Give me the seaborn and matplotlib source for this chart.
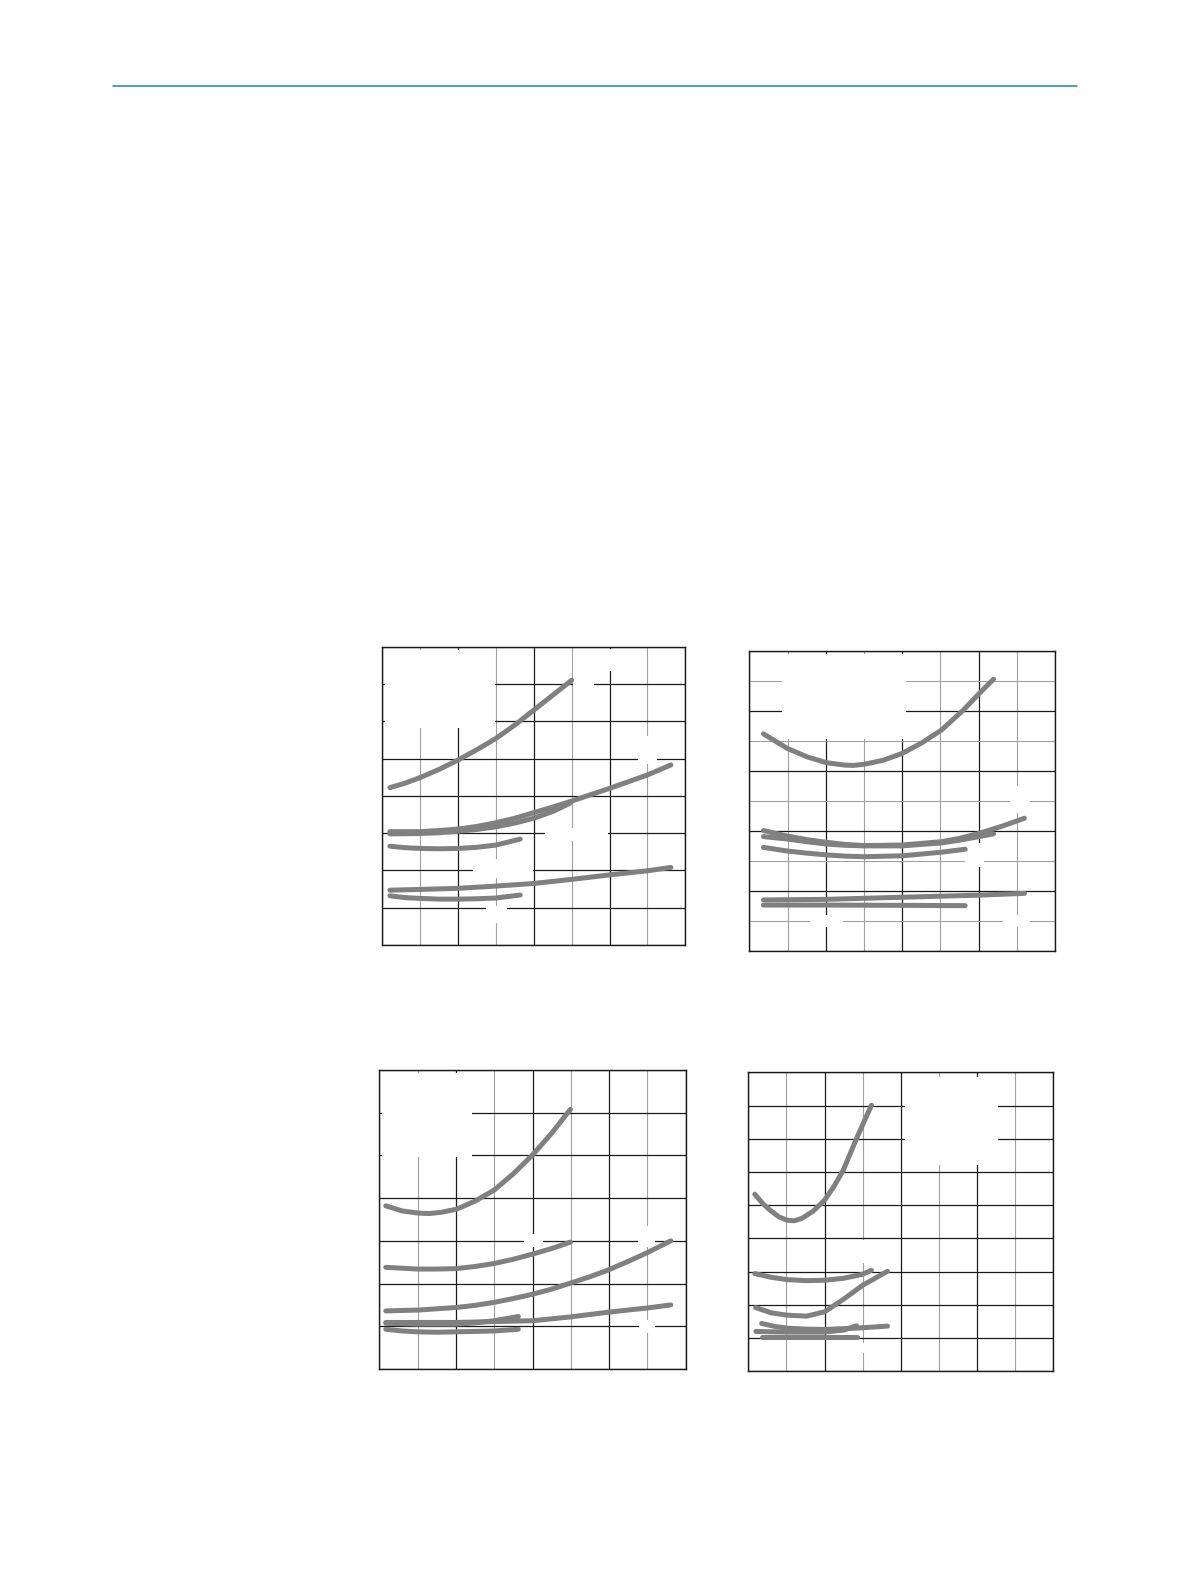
import pandas as pd
import matplotlib
matplotlib.use("Agg")
import matplotlib.pyplot as plt
from matplotlib.lines import Line2D
from matplotlib.patches import Rectangle
import seaborn as sns

# --- values (grid units: columns 0..8, rows from the bottom) ---
top_left_x = [
    [0.2, 0.6, 1.0, 1.5, 2.0, 2.5, 3.0, 3.5, 4.0, 4.5, 5.0],
    [0.2, 1.0, 1.5, 2.0, 2.5, 3.0, 3.5, 4.0, 4.5, 5.0, 5.5, 6.0, 6.5, 7.0, 7.62],
    [0.2, 1.0, 1.5, 2.0, 2.5, 3.0, 3.5, 4.0, 4.5, 4.95],
    [0.2, 0.6, 1.0, 1.5, 2.0, 2.5, 3.0, 3.64],
    [0.2, 1.0, 2.0, 3.0, 4.0, 5.0, 6.0, 7.0, 7.62],
    [0.2, 0.6, 1.0, 1.5, 2.0, 2.5, 3.0, 3.64],
]
top_left_y = [
    [4.22, 4.34, 4.49, 4.71, 4.96, 5.24, 5.54, 5.90, 6.30, 6.70, 7.10],
    [3.04, 3.04, 3.07, 3.11, 3.18, 3.28, 3.40, 3.55, 3.70, 3.86, 4.03, 4.20, 4.38, 4.56, 4.83],
    [2.98, 2.99, 3.01, 3.05, 3.10, 3.17, 3.27, 3.40, 3.58, 3.80],
    [2.65, 2.61, 2.59, 2.58, 2.59, 2.62, 2.68, 2.84],
    [1.47, 1.49, 1.52, 1.58, 1.65, 1.76, 1.88, 1.99, 2.08],
    [1.32, 1.27, 1.25, 1.23, 1.23, 1.24, 1.26, 1.34],
]

top_right_x = [
    [0.37, 0.99, 1.5, 2.02, 2.5, 2.72, 3.01, 3.5, 4.0, 4.5, 5.03, 5.6, 6.02, 6.39],
    [0.37, 0.99, 1.5, 2.02, 2.5, 3.01, 4.0, 5.03, 5.5, 6.02, 6.6, 7.2],
    [0.37, 0.99, 1.5, 2.02, 2.5, 3.01, 4.0, 5.03, 5.5, 6.02, 6.39],
    [0.37, 0.99, 1.5, 2.02, 2.5, 3.01, 4.0, 5.03, 5.65],
    [0.37, 2.02, 4.0, 6.02, 7.2],
    [0.37, 2.02, 4.0, 5.65],
]
top_right_y = [
    [7.23, 6.75, 6.47, 6.27, 6.19, 6.18, 6.22, 6.35, 6.58, 6.92, 7.36, 8.02, 8.58, 9.05],
    [4.01, 3.83, 3.71, 3.62, 3.55, 3.51, 3.53, 3.64, 3.75, 3.92, 4.15, 4.42],
    [3.81, 3.73, 3.64, 3.56, 3.52, 3.50, 3.50, 3.60, 3.69, 3.81, 3.90],
    [3.45, 3.33, 3.26, 3.20, 3.16, 3.14, 3.17, 3.29, 3.39],
    [1.70, 1.72, 1.79, 1.86, 1.92],
    [1.53, 1.53, 1.52, 1.51],
]

bottom_left_x = [
    [0.17, 0.6, 1.02, 1.3, 1.63, 2.01, 2.5, 3.0, 3.5, 4.0, 4.5, 4.99],
    [0.17, 1.02, 1.5, 2.01, 2.5, 3.0, 3.5, 4.0, 4.5, 4.99],
    [0.17, 1.02, 2.01, 2.5, 3.0, 3.5, 4.0, 4.5, 4.99, 5.5, 5.98, 6.5, 7.01, 7.61],
    [0.17, 2.01, 4.0, 5.0, 5.98, 7.01, 7.61],
    [0.17, 1.02, 2.01, 2.5, 3.0, 3.63],
    [0.17, 0.6, 1.02, 1.5, 2.01, 2.5, 3.0, 3.63],
]
bottom_left_y = [
    [3.82, 3.70, 3.65, 3.64, 3.67, 3.74, 3.93, 4.19, 4.57, 5.01, 5.52, 6.08],
    [2.38, 2.34, 2.34, 2.35, 2.40, 2.47, 2.57, 2.69, 2.82, 2.97],
    [1.36, 1.38, 1.44, 1.49, 1.56, 1.65, 1.75, 1.87, 2.01, 2.16, 2.32, 2.52, 2.73, 3.00],
    [1.09, 1.09, 1.13, 1.22, 1.33, 1.43, 1.50],
    [1.07, 1.05, 1.05, 1.08, 1.13, 1.23],
    [0.93, 0.89, 0.87, 0.86, 0.87, 0.88, 0.89, 0.93],
]

bottom_right_x = [
    [0.17, 0.37, 0.57, 0.8, 1.01, 1.2, 1.40, 1.7, 2.0, 2.25, 2.49, 2.84, 3.23],
    [0.17, 0.6, 1.01, 1.5, 2.0, 2.5, 3.0, 3.23],
    [0.19, 0.6, 1.01, 1.53, 2.0, 2.5, 3.0, 3.65],
    [0.35, 0.7, 1.01, 1.5, 2.0, 2.84, 3.65],
    [0.2, 1.01, 2.0, 2.5, 2.84],
    [0.35, 2.0, 2.84],
]
bottom_right_y = [
    [5.33, 5.06, 4.85, 4.65, 4.55, 4.53, 4.60, 4.82, 5.15, 5.57, 6.05, 7.01, 8.01],
    [2.94, 2.83, 2.76, 2.73, 2.74, 2.80, 2.92, 3.04],
    [1.92, 1.76, 1.69, 1.66, 1.79, 2.17, 2.59, 3.01],
    [1.44, 1.35, 1.30, 1.27, 1.26, 1.30, 1.36],
    [1.20, 1.18, 1.18, 1.24, 1.37],
    [1.03, 1.03, 1.03],
]

# --- layout (pixels of the 1191x1584 page) ---
W, H = 1191, 1584
PANELS = [
    # left, top, right, bottom, rows, gray odd rows, xs, ys
    (382.3, 646.7, 685.3, 945.0, 8, False, top_left_x, top_left_y),
    (749.3, 650.7, 1055.0, 951.0, 10, True, top_right_x, top_right_y),
    (379.3, 1070.0, 685.7, 1369.0, 7, False, bottom_left_x, bottom_left_y),
    (748.3, 1072.3, 1053.3, 1371.3, 9, False, bottom_right_x, bottom_right_y),
]
# white label areas where the grid is blanked out (x0, y0, w, h in grid units)
BLANKS = [
    [(0.07, 5.82, 2.91, 2.1), (5.03, 6.85, 0.55, 1.05), (5.9, 7.35, 0.2, 0.6),
     (6.76, 4.85, 0.48, 0.75), (4.3, 2.8, 1.67, 0.35), (2.4, 1.8, 1.59, 0.5),
     (2.75, 0.6, 0.53, 0.45)],
    [(0.85, 7.05, 3.25, 2.85), (6.82, 4.6, 0.53, 0.9), (5.65, 2.8, 0.48, 0.8),
     (1.6, 0.8, 0.86, 0.4), (6.65, 0.8, 0.7, 0.4)],
    [(0.06, 4.97, 2.35, 1.95), (3.79, 2.85, 0.49, 0.3), (6.76, 2.85, 0.44, 0.5),
     (6.78, 0.85, 0.42, 0.3)],
    [(4.11, 6.22, 2.45, 2.65), (2.95, 3.25, 0.1, 0.7), (2.95, 0.55, 0.1, 0.3)],
]

CURVE = "#808080"
MAJOR = "#1a1a1a"
MINOR = "#a0a0a0"


def draw_panel(ax, xs, ys, rows, gray_rows, blanks):
    ax.set_xlim(0, 8)
    ax.set_ylim(0, rows)
    ax.set_xticks(range(0, 9, 2))
    ax.set_xticks(range(1, 9, 2), minor=True)
    if gray_rows:
        ax.set_yticks(range(0, rows + 1, 2))
        ax.set_yticks(range(1, rows, 2), minor=True)
    else:
        ax.set_yticks(range(0, rows + 1))
    ax.set_axisbelow(True)
    ax.grid(which="major", color=MAJOR, linewidth=0.9)
    ax.grid(which="minor", color=MINOR, linewidth=0.8)
    ax.tick_params(which="both", length=0, labelleft=False, labelbottom=False)
    for s in ax.spines.values():
        s.set_color(MAJOR)
        s.set_linewidth(1.0)
        s.set_visible(True)

    # blank label areas (text removed in the source page)
    for (x0, y0, w, h) in blanks:
        ax.add_patch(Rectangle((x0, y0), w, h, facecolor="white",
                               edgecolor="none", zorder=1))

    rec = []
    for i, (cx, cy) in enumerate(zip(xs, ys)):
        for a, b in zip(cx, cy):
            rec.append({"curve": i, "x": a, "y": b})
    df = pd.DataFrame(rec)
    sns.lineplot(data=df, x="x", y="y", units="curve", estimator=None,
                 sort=False, color=CURVE, linewidth=3.6, legend=False,
                 ax=ax, zorder=3)
    ax.set_xlabel("")
    ax.set_ylabel("")


def main():
    sns.set_style("white")
    plt.rcParams["lines.solid_capstyle"] = "round"
    plt.rcParams["lines.solid_joinstyle"] = "round"

    fig = plt.figure(figsize=(W / 100, H / 100), dpi=100)
    fig.patch.set_facecolor("white")

    # teal rule at the top of the page
    fig.add_artist(Line2D([113 / W, 1077 / W], [1 - 86 / H, 1 - 86 / H],
                          color="#1f84a6", linewidth=1.1))

    for (l, t, r, b, rows, gray, xs, ys), blanks in zip(PANELS, BLANKS):
        ax = fig.add_axes([l / W, 1 - b / H, (r - l) / W, (b - t) / H])
        draw_panel(ax, xs, ys, rows, gray, blanks)

    fig.savefig("out.png", dpi=100, facecolor="white")
    plt.close(fig)


if __name__ == "__main__":
    main()
